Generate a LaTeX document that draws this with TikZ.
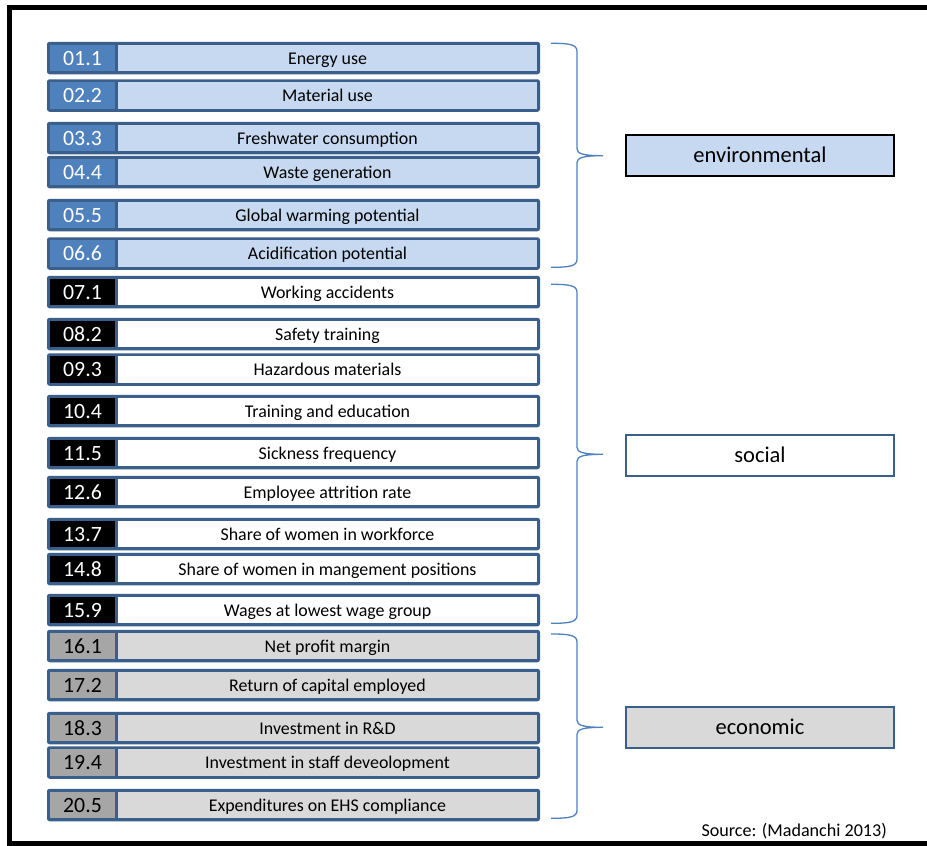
\documentclass[tikz,border=0pt]{standalone}
\usepackage{fontspec}
\setmainfont{Carlito}

\definecolor{rowedge}{HTML}{3A5F8B}
\definecolor{envnum}{HTML}{4F81BD}
\definecolor{envfill}{HTML}{C6D9F1}
\definecolor{ecofill}{HTML}{D9D9D9}
\definecolor{econum}{HTML}{A6A6A6}
\definecolor{bracecol}{HTML}{4F81BD}

% right-hand curly brace: name, top y, tip y, bottom y
\newcommand\groupbrace[4]{%
  \coordinate (#1-a) at (551,#2);
  \coordinate (#1-tip) at (603,#3);
  \coordinate (#1-b) at (551,#4);
  \draw[bracepen] (#1-a) .. controls (569,#2) and (577,#2+1) .. (577,#2+8)
    -- (577,#3-7) .. controls (577,#3-2) and (583,#3) .. (#1-tip)
    .. controls (583,#3) and (577,#3+2) .. (577,#3+7)
    -- (577,#4-8) .. controls (577,#4-1) and (569,#4) .. (#1-b);
}

\begin{document}
\begin{tikzpicture}[x=1pt,y=-1pt,
  rowbox/.style={draw=none, fill=rowedge, rounded corners=2.5pt,
    minimum width=493pt, minimum height=32.5pt, inner sep=0pt, outer sep=0pt},
  numcell/.style={minimum width=65pt, minimum height=26.5pt, inner sep=0pt,
    outer sep=0pt, font=\fontsize{21.8}{22}\selectfont, text height=14pt, text depth=0pt},
  txtcell/.style={minimum width=419pt, minimum height=26.5pt, inner sep=0pt,
    outer sep=0pt, font=\fontsize{17.9}{19}\selectfont, text height=12.5pt, text depth=0pt},
  catbox/.style={minimum width=268pt, minimum height=41pt, inner sep=0pt,
    line width=2pt, font=\fontsize{22.5}{24}\selectfont, text height=14pt, text depth=0pt},
  bracepen/.style={draw=bracecol, line width=1.3pt}]

\clip (0,0) rectangle (927,846);
\fill[white] (0,0) rectangle (927,846);
\draw[line width=5pt] (9.5,7.5) rectangle (940,843.5);

% environmental indicators
\foreach \y/\n/\t [count=\i from 1] in {
    58/01.1/Energy use,
    95.5/02.2/Material use,
    138/03.3/Freshwater consumption,
    172/04.4/Waste generation,
    215/05.5/Global warming potential,
    253.5/06.6/Acidification potential}{
  \node[rowbox] (row\i) at (293.5,\y) {};
  \node[numcell, fill=envnum, text=white] (num\i) at (82.5,\y) {\n};
  \node[txtcell, fill=envfill] (txt\i) at (327.5,\y) {\t};
}

% social indicators
\foreach \y/\n/\t [count=\i from 7] in {
    292/07.1/Working accidents,
    334/08.2/Safety training,
    369.5/09.3/Hazardous materials,
    411/10.4/Training and education,
    453/11.5/Sickness frequency,
    492/12.6/Employee attrition rate,
    534/13.7/Share of women in workforce,
    569/14.8/Share of women in mangement positions,
    610/15.9/Wages at lowest wage group}{
  \node[rowbox] (row\i) at (293.5,\y) {};
  \node[numcell, fill=black, text=white] (num\i) at (82.5,\y) {\n};
  \node[txtcell, fill=white] (txt\i) at (327.5,\y) {\t};
}

% economic indicators
\foreach \y/\n/\t [count=\i from 16] in {
    646/16.1/Net profit margin,
    685/17.2/Return of capital employed,
    728/18.3/Investment in R\&D,
    762.5/19.4/Investment in staff deveolopment,
    805/20.5/Expenditures on EHS compliance}{
  \node[rowbox] (row\i) at (293.5,\y) {};
  \node[numcell, fill=econum, text=black] (num\i) at (82.5,\y) {\n};
  \node[txtcell, fill=ecofill] (txt\i) at (327.5,\y) {\t};
}

% group braces
\groupbrace{envbr}{43.3}{155.7}{267.3}
\groupbrace{socbr}{284.3}{454.3}{623.3}
\groupbrace{ecobr}{634}{727.3}{818.3}

% category boxes
\node[catbox, draw=black, fill=envfill] (env) at (760,155.5) {environmental};
\node[catbox, draw=rowedge, fill=white] (soc) at (760,455) {social};
\node[catbox, draw=rowedge, fill=ecofill] (eco) at (760,727) {economic};

\node[anchor=base east, font=\fontsize{18.1}{19}\selectfont, inner sep=0pt]
  (src) at (887,836.7) {Source: (Madanchi 2013)};
\end{tikzpicture}
\end{document}
